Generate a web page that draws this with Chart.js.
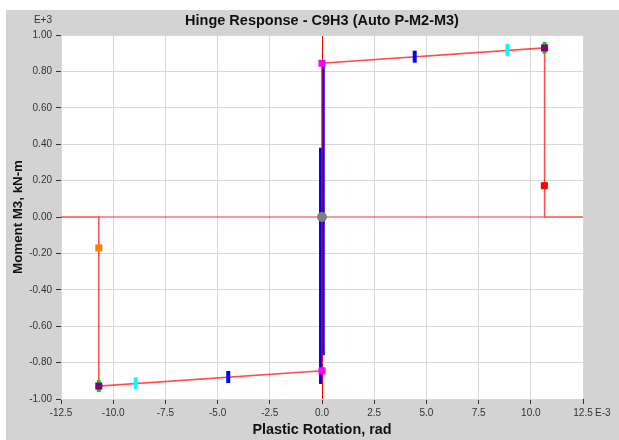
<!DOCTYPE html>
<html>
<head>
<meta charset="utf-8">
<script src="https://cdn.jsdelivr.net/npm/chart.js@4/dist/chart.umd.min.js"></script>
<style>
  body { margin: 0; background: #fff; }
  canvas { display: block; }
</style>
</head>
<body>
<canvas id="hinge" width="619" height="440"></canvas>
<script>
// rotation in E-3 rad, moment in E+3 kN-m

const rotTicks = [-12.5, -10, -7.5, -5, -2.5, 0, 2.5, 5, 7.5, 10, 12.5];
const momTicks = [-1.0, -0.8, -0.6, -0.4, -0.2, 0, 0.2, 0.4, 0.6, 0.8, 1.0];

// backbone curve (beyond the drop it runs along zero moment)
const backboneRot = [-12.5, -10.69, -10.69, 0, 0, 10.66, 10.66, 12.5];
const backboneMom = [0, 0, -0.929, -0.845, 0.845, 0.929, 0, 0];
const zeroRot = [-10.69, 10.66];
const zeroMom = [0, 0];

// hysteresis traces along the elastic branch
const traceARot = [0.06, 0.06];
const traceAMom = [0.845, -0.76];
const traceBRot = [-0.07, -0.07];
const traceBMom = [0.38, -0.918];

// hinge points
const yieldRot = [0, 0];
const yieldMom = [0.845, -0.845];
const ultRot = [10.66, -10.69];
const ultMom = [0.929, -0.929];
const ioRot = [4.44, -4.49];
const ioMom = [0.881, -0.879];
const lsRot = [8.88, -8.92];
const lsMom = [0.918, -0.914];
const cpRot = [10.66, -10.69];
const cpMom = [0.929, -0.929];
const residPosRot = [10.65];
const residPosMom = [0.172];
const residNegRot = [-10.69];
const residNegMom = [-0.170];
const originRot = [0];
const originMom = [0];

function pts(xs, ys) {
  return xs.map((x, i) => ({ x: x, y: ys[i] }));
}

function marker(xs, ys, color, style, radius, width, rot) {
  return {
    data: pts(xs, ys),
    showLine: false,
    pointStyle: style,
    pointRadius: radius,
    pointBackgroundColor: color,
    pointBorderColor: color,
    pointBorderWidth: width,
    pointRotation: rot || 0
  };
}

function trace(xs, ys, color, width) {
  return {
    data: pts(xs, ys),
    showLine: true,
    borderColor: color,
    borderWidth: width,
    pointRadius: 0
  };
}

const isZero = v => Math.abs(v) < 1e-9;

const panelBg = {
  id: 'panelBg',
  beforeDraw(chart) {
    const c = chart.ctx, a = chart.chartArea;
    c.save();
    c.fillStyle = '#fff';
    c.fillRect(0, 0, chart.width, chart.height);
    c.fillStyle = '#d3d3d3';
    c.fillRect(6, 10, chart.width - 6, chart.height - 10);
    c.fillStyle = '#fff';
    c.fillRect(a.left, a.top, a.right - a.left, a.bottom - a.top);
    c.restore();
  },
  afterDraw(chart) {
    const c = chart.ctx, a = chart.chartArea;
    c.save();
    c.fillStyle = '#333';
    c.font = '10px "Liberation Sans", Arial, sans-serif';
    c.textBaseline = 'middle';
    c.textAlign = 'right';
    c.fillText('E+3', a.left - 9, 20);
    c.textAlign = 'left';
    c.fillText('E-3', a.right + 12, 413);
    c.restore();
  }
};

const font = '"Liberation Sans", Arial, sans-serif';
Chart.defaults.font.family = font;

new Chart(document.getElementById('hinge'), {
  type: 'scatter',
  data: {
    datasets: [
      marker(originRot, originMom, '#808080', 'circle', 5, 0),
      marker(yieldRot, yieldMom, '#ff00ff', 'rect', 5, 0),
      marker(ultRot, ultMom, '#800080', 'rect', 5, 0),
      marker(cpRot, cpMom, '#00e000', 'line', 6, 4, 90),
      marker(residPosRot, residPosMom, '#ff0000', 'rect', 5, 0),
      marker(residNegRot, residNegMom, '#ff8000', 'rect', 5, 0),
      marker(ioRot, ioMom, '#0000ff', 'line', 6, 4, 90),
      marker(lsRot, lsMom, '#00ffff', 'line', 6, 4, 90),
      trace(backboneRot, backboneMom, 'rgba(255,0,0,0.7)', 1.5),
      trace(zeroRot, zeroMom, 'rgba(255,0,0,0.55)', 1.5),
      trace(traceARot, traceAMom, '#0000ff', 3),
      trace(traceBRot, traceBMom, '#0000ff', 3)
    ]
  },
  options: {
    responsive: false,
    animation: false,
    layout: { padding: { left: 0, top: 0, right: 36, bottom: 0 } },
    plugins: {
      legend: { display: false },
      tooltip: { enabled: false },
      title: {
        display: true,
        fullSize: false,
        text: 'Hinge Response - C9H3 (Auto P-M2-M3)',
        color: '#111',
        font: { size: 14.5, weight: 'bold' },
        padding: { top: 12.3, bottom: 5.3 }
      }
    },
    scales: {
      x: {
        type: 'linear',
        min: -12.5,
        max: 12.5,
        afterBuildTicks: s => { s.ticks = rotTicks.map(v => ({ value: v })); },
        afterFit: s => { s.height = 41; },
        border: { display: false },
        grid: {
          color: c => isZero(c.tick.value) ? '#ff0000' : '#d8d8d8',
          tickColor: '#333',
          tickLength: 5
        },
        ticks: {
          color: '#333',
          font: { size: 10 },
          padding: 3,
          maxRotation: 0,
          callback: v => v.toFixed(1)
        },
        title: {
          display: true,
          text: 'Plastic Rotation, rad',
          color: '#111',
          font: { size: 14.4, weight: 'bold' },
          padding: { top: 0, bottom: 1.4 }
        }
      },
      y: {
        type: 'linear',
        min: -1,
        max: 1,
        afterBuildTicks: s => { s.ticks = momTicks.map(v => ({ value: v })); },
        afterFit: s => { s.width = 61; },
        border: { display: false },
        grid: {
          color: c => isZero(c.tick.value) ? 'rgba(0,0,0,0)' : '#d8d8d8',
          tickColor: '#333',
          tickLength: 5
        },
        ticks: {
          color: '#333',
          font: { size: 10 },
          padding: 4,
          callback: v => v.toFixed(2)
        },
        title: {
          display: true,
          text: 'Moment M3, kN-m',
          color: '#111',
          font: { size: 13.3, weight: 'bold' },
          padding: { top: 10, bottom: 0 }
        }
      }
    }
  },
  plugins: [panelBg]
});
</script>
</body>
</html>
